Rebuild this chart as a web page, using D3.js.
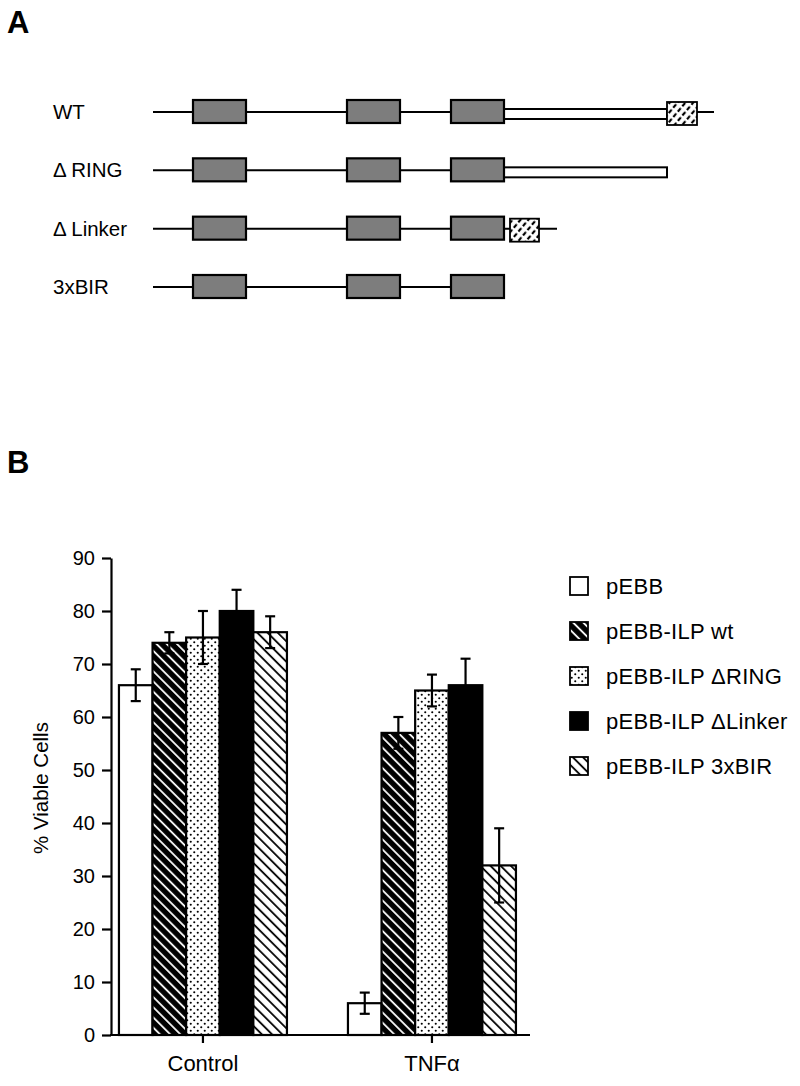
<!DOCTYPE html>
<html>
<head>
<meta charset="utf-8">
<script src="https://cdnjs.cloudflare.com/ajax/libs/d3/7.8.5/d3.min.js"></script>
<style>
  body { margin: 0; background: #fff; }
  svg { font-family: "Liberation Sans", Arial, Helvetica, sans-serif; }
</style>
</head>
<body>
<div id="chart"></div>
<script>
// Panel A: construct schematics (schematic units along the protein)
var constructs = ["WT", "\u0394 RING", "\u0394 Linker", "3xBIR"];
var constructEnd = [561, 514, 404, 351];
var birDomains = [[40, 93], [194, 247], [298, 351]];
var linkerDomains = [[351, 514], [351, 514], null, null];
var ringDomains = [[514, 544], null, [357, 386], null];

// Panel B: % viable cells
var groups = ["Control", "TNF\u03b1"];
var seriesNames = ["pEBB", "pEBB-ILP wt", "pEBB-ILP \u0394RING", "pEBB-ILP \u0394Linker", "pEBB-ILP 3xBIR"];
var controlMeans = [66, 74, 75, 80, 76];
var controlErrors = [3, 2, 5, 4, 3];
var tnfMeans = [6, 57, 65, 66, 32];
var tnfErrors = [2, 3, 3, 5, 7];
var yTicks = [0, 10, 20, 30, 40, 50, 60, 70, 80, 90];

var fills = ["#fff", "url(#hatchWhite)", "url(#dots)", "#000", "url(#hatchBlack)"];
var font = "'Liberation Sans', Arial, sans-serif";

var svg = d3.select("#chart").append("svg")
    .attr("width", 800)
    .attr("height", 1086);

svg.append("rect").attr("width", 800).attr("height", 1086).attr("fill", "#fff");

// Patterns
var defs = svg.append("defs");

var p1 = defs.append("pattern").attr("id", "hatchWhite")
    .attr("patternUnits", "userSpaceOnUse").attr("width", 7.2).attr("height", 7.2)
    .attr("patternTransform", "rotate(-45)");
p1.append("rect").attr("width", 7.2).attr("height", 7.2).attr("fill", "#000");
p1.append("line").attr("x1", 1).attr("x2", 1).attr("y1", 0).attr("y2", 7.2)
    .attr("stroke", "#fff").attr("stroke-width", 1.8);

var p2 = defs.append("pattern").attr("id", "hatchBlack")
    .attr("patternUnits", "userSpaceOnUse").attr("width", 7.2).attr("height", 7.2)
    .attr("patternTransform", "rotate(-45)");
p2.append("rect").attr("width", 7.2).attr("height", 7.2).attr("fill", "#fff");
p2.append("line").attr("x1", 1).attr("x2", 1).attr("y1", 0).attr("y2", 7.2)
    .attr("stroke", "#000").attr("stroke-width", 1.8);

var p3 = defs.append("pattern").attr("id", "dots")
    .attr("patternUnits", "userSpaceOnUse").attr("width", 7).attr("height", 7);
p3.append("rect").attr("width", 7).attr("height", 7).attr("fill", "#fff");
p3.append("circle").attr("cx", 1.75).attr("cy", 1.75).attr("r", 1.05).attr("fill", "#000");
p3.append("circle").attr("cx", 5.25).attr("cy", 5.25).attr("r", 1.05).attr("fill", "#000");

var p4 = defs.append("pattern").attr("id", "ringHatch")
    .attr("patternUnits", "userSpaceOnUse").attr("width", 6).attr("height", 7)
    .attr("patternTransform", "rotate(40)");
p4.append("rect").attr("width", 6).attr("height", 7).attr("fill", "#fff");
p4.append("line").attr("x1", 3).attr("x2", 3).attr("y1", 0.5).attr("y2", 5)
    .attr("stroke", "#000").attr("stroke-width", 2.2);

// ---------- Panel A ----------
svg.append("text").attr("x", 7).attr("y", 33)
    .attr("font-size", 31).attr("font-weight", "bold").text("A");

var xA = d3.scaleLinear().domain([0, 560]).range([153, 713]);
var yA = d3.scalePoint().domain(constructs).range([112, 287]);

var rows = svg.append("g").selectAll("g")
    .data(constructs)
  .enter().append("g")
    .attr("transform", function(d) { return "translate(0," + yA(d) + ")"; });

rows.append("text")
    .attr("x", 53).attr("y", 7)
    .attr("font-size", 20.5)
    .text(function(d) { return d; });

rows.append("line")
    .attr("x1", xA(0))
    .attr("x2", function(d, i) { return xA(constructEnd[i]); })
    .attr("stroke", "#000").attr("stroke-width", 2);

rows.each(function(d, i) {
    var g = d3.select(this);
    if (linkerDomains[i]) {
        g.append("rect")
            .attr("x", xA(linkerDomains[i][0]))
            .attr("y", -3)
            .attr("width", xA(linkerDomains[i][1]) - xA(linkerDomains[i][0]))
            .attr("height", 10)
            .attr("fill", "#fff").attr("stroke", "#000").attr("stroke-width", 2);
    }
    if (ringDomains[i]) {
        g.append("rect")
            .attr("x", xA(ringDomains[i][0]))
            .attr("y", -10)
            .attr("width", xA(ringDomains[i][1]) - xA(ringDomains[i][0]))
            .attr("height", 23)
            .attr("fill", "url(#ringHatch)").attr("stroke", "#000").attr("stroke-width", 1.8);
    }
    g.selectAll(".bir")
        .data(birDomains)
      .enter().append("rect")
        .attr("class", "bir")
        .attr("x", function(b) { return xA(b[0]); })
        .attr("y", -12)
        .attr("width", function(b) { return xA(b[1]) - xA(b[0]); })
        .attr("height", 23)
        .attr("fill", "#7d7d7d").attr("stroke", "#000").attr("stroke-width", 2.2);
});

// ---------- Panel B ----------
svg.append("text").attr("x", 7).attr("y", 473)
    .attr("font-size", 31).attr("font-weight", "bold").text("B");

var y = d3.scaleLinear().domain([0, 90]).range([1035, 558]);

var x0 = d3.scaleBand().domain(groups)
    .range([107.5, 527.4]).paddingInner(0.2664).paddingOuter(0.05);
var x1 = d3.scaleBand().domain(seriesNames)
    .range([0, x0.bandwidth()]);

var data = [];
groups.forEach(function(gr, gi) {
    var means = gi === 0 ? controlMeans : tnfMeans;
    var errs = gi === 0 ? controlErrors : tnfErrors;
    seriesNames.forEach(function(s, si) {
        data.push({group: gr, series: s, si: si, value: means[si], err: errs[si]});
    });
});

var bars = svg.append("g");
bars.selectAll("rect")
    .data(data)
  .enter().append("rect")
    .attr("x", function(d) { return x0(d.group) + x1(d.series); })
    .attr("y", function(d) { return y(d.value); })
    .attr("width", x1.bandwidth())
    .attr("height", function(d) { return y(0) - y(d.value); })
    .attr("fill", function(d) { return fills[d.si]; })
    .attr("stroke", "#000").attr("stroke-width", 2.2);

// error bars
var eb = svg.append("g").attr("stroke", "#000").attr("stroke-width", 2.2);
data.forEach(function(d) {
    var cx = x0(d.group) + x1(d.series) + x1.bandwidth() / 2;
    eb.append("line").attr("x1", cx).attr("x2", cx)
        .attr("y1", y(d.value - d.err)).attr("y2", y(d.value + d.err));
    [d.value - d.err, d.value + d.err].forEach(function(v) {
        eb.append("line").attr("x1", cx - 5).attr("x2", cx + 5)
            .attr("y1", y(v)).attr("y2", y(v));
    });
});

// y axis
var yAxis = svg.append("g")
    .attr("transform", "translate(111,0)")
    .call(d3.axisLeft(y).tickValues(yTicks).tickSize(9).tickSizeOuter(0).tickPadding(7));
yAxis.select(".domain").attr("stroke-width", 2.2);
yAxis.selectAll(".tick line").attr("stroke-width", 2.2);
yAxis.selectAll(".tick text").attr("font-size", 20).attr("fill", "#000")
    .attr("font-family", font);

// x axis
var xAxis = svg.append("g")
    .attr("transform", "translate(0,1035)")
    .call(d3.axisBottom(x0).tickSize(8).tickPadding(12));
xAxis.select(".domain").remove();
xAxis.selectAll(".tick line").attr("stroke-width", 2.2);
xAxis.selectAll(".tick text").attr("font-size", 22).attr("fill", "#000")
    .attr("font-family", font);
xAxis.append("line").attr("x1", 110).attr("x2", 530)
    .attr("stroke", "#000").attr("stroke-width", 2.2);

// y label
svg.append("text")
    .attr("transform", "translate(48,788) rotate(-90)")
    .attr("text-anchor", "middle")
    .attr("font-size", 20.5)
    .text("% Viable Cells");

// legend
var legend = svg.append("g").selectAll("g")
    .data(seriesNames)
  .enter().append("g")
    .attr("transform", function(d, i) { return "translate(570," + (586 + i * 45) + ")"; });

legend.append("rect")
    .attr("x", 0).attr("y", -9)
    .attr("width", 18).attr("height", 18)
    .attr("fill", function(d, i) { return fills[i]; })
    .attr("stroke", "#000").attr("stroke-width", 1.8);

legend.append("text")
    .attr("x", 36).attr("y", 8)
    .attr("font-size", 22)
    .attr("letter-spacing", 0.3)
    .text(function(d) { return d; });
</script>
</body>
</html>
